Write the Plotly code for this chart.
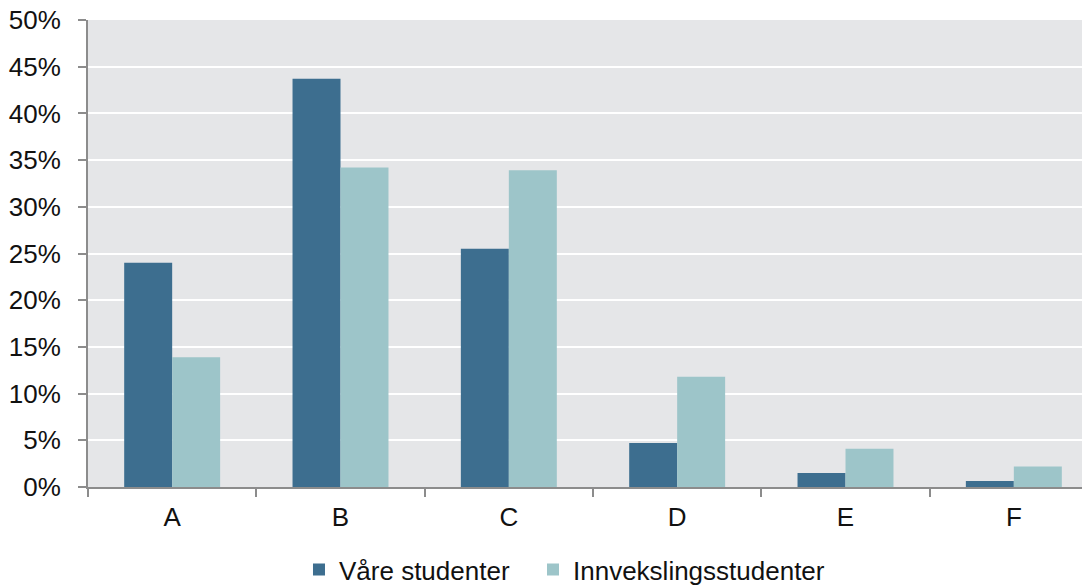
import plotly.graph_objects as go

categories = ["A", "B", "C", "D", "E", "F"]
vare = [0.240, 0.437, 0.255, 0.047, 0.015, 0.0065]
innveksling = [0.139, 0.342, 0.339, 0.118, 0.041, 0.022]
tick_vals = [0, 0.05, 0.10, 0.15, 0.20, 0.25, 0.30, 0.35, 0.40, 0.45, 0.50]

fig = go.Figure()
fig.add_trace(go.Bar(x=categories, y=vare, name="Våre studenter", legend="legend",
                     marker=dict(color="#3d6e8f", line=dict(width=0))))
fig.add_trace(go.Bar(x=categories, y=innveksling, name="Innvekslingsstudenter", legend="legend2",
                     marker=dict(color="#9dc5c9", line=dict(width=0))))

legend_common = dict(orientation="h", xanchor="left", y=-0.177, yanchor="middle",
                     font=dict(size=26), bgcolor="rgba(0,0,0,0)")

# page has an 8px body margin, so figure coords are page coords minus 8
fig.update_layout(
    width=1090, height=585,
    margin=dict(l=80, r=0, t=12, b=106, autoexpand=False),
    paper_bgcolor="white",
    plot_bgcolor="#e5e6e8",
    barmode="group",
    bargap=0.43,
    bargroupgap=0,
    font=dict(family="Liberation Sans, Arial, sans-serif", size=26, color="#111111"),
    showlegend=True,
    legend=dict(x=0.2089, **legend_common),
    legend2=dict(x=0.4406, **legend_common),
)
fig.update_xaxes(
    range=[-0.5, 5.5], automargin=False,
    showline=True, linecolor="#8c8c8c", linewidth=2,
    ticks="outside", tickson="boundaries", ticklen=8, tickcolor="#8c8c8c", tickwidth=2,
    ticklabelstandoff=6,
    showgrid=False, zeroline=False,
)
fig.update_yaxes(
    range=[0, 0.5], automargin=False,
    tickvals=tick_vals, tickformat=".0%",
    showline=True, linecolor="#8c8c8c", linewidth=2,
    ticks="outside", ticklen=8, tickcolor="#8c8c8c", tickwidth=2,
    ticklabelstandoff=12, ticklabeloverflow="allow",
    showgrid=True, gridcolor="white", gridwidth=2,
    zeroline=False,
)

fig.write_html("out.html")
